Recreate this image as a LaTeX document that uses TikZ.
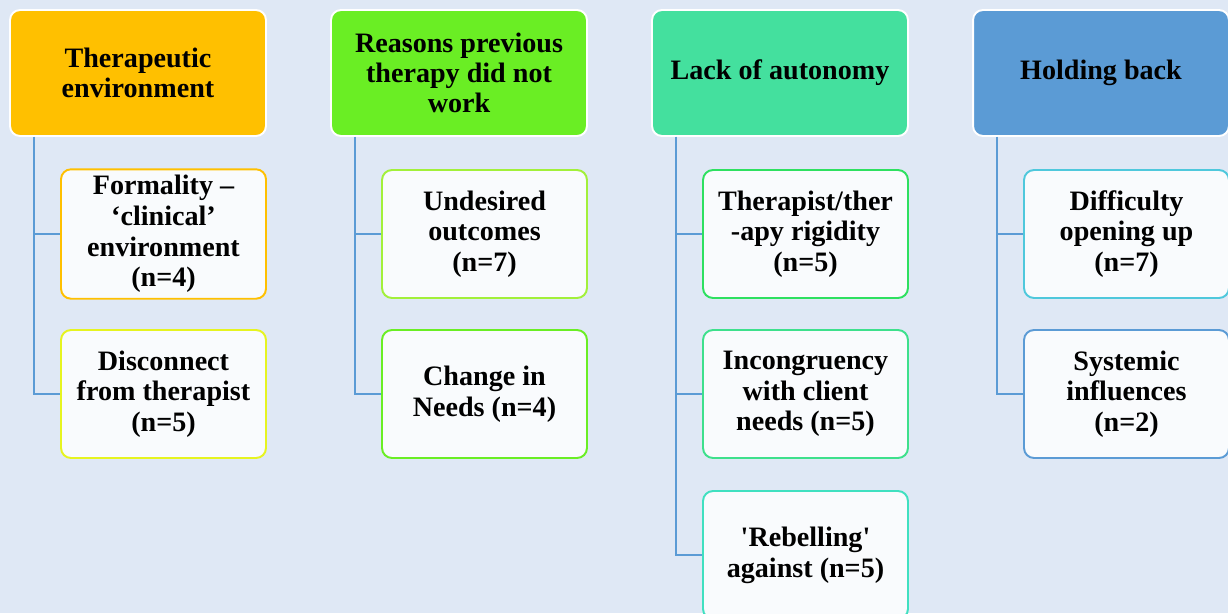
\documentclass[tikz,border=0pt]{standalone}
\usepackage{fontspec}
\setmainfont{Liberation Serif}
\usepackage{tikz}
\usetikzlibrary{positioning}

\definecolor{bgblue}{HTML}{DFE8F5}
\definecolor{linkblue}{HTML}{5B9BD5}
\definecolor{gold}{HTML}{FFC000}
\definecolor{lime}{HTML}{6AEE24}
\definecolor{mint}{HTML}{44E09E}
\definecolor{steel}{HTML}{5B9BD5}
\definecolor{yel}{HTML}{E6F420}
\definecolor{lgreen}{HTML}{A2F03A}
\definecolor{green}{HTML}{2EE060}
\definecolor{sea}{HTML}{3EE08C}
\definecolor{turq}{HTML}{40E0C0}
\definecolor{sky}{HTML}{4FC8DC}
\definecolor{boxwhite}{HTML}{F9FBFD}

\begin{document}
\begin{tikzpicture}[x=0.02cm,y=-0.02cm,
    link/.style={draw=linkblue,line width=1.5pt}]
    \fill[bgblue] (0,0) rectangle (1228,613);
    \useasboundingbox (0,0) rectangle (1228,613);

    \begin{scope}[every node/.style={rectangle,rounded corners=0.2cm,draw=white,line width=1.1pt,
        minimum width=5.12cm,minimum height=2.52cm,align=center,
        font=\fontsize{16}{17}\selectfont\bfseries}]
      \node[fill=gold] (h1) at (138,73) {Therapeutic\\environment};
      \node[fill=lime] (h2) at (459,73) {Reasons previous\\therapy did not\\work};
      \node[fill=mint] (h3) at (780,73) {Lack of autonomy};
      \node[fill=steel] (h4) at (1101,73) {Holding back};
    \end{scope}

    \begin{scope}[every node/.style={rectangle,rounded corners=0.2cm,fill=boxwhite,line width=1.1pt,
        minimum width=4.1cm,minimum height=2.56cm,align=center,
        font=\fontsize{16}{17.5}\selectfont\bfseries}]
      \node[draw=gold] (c11) at (163.5,234) {Formality –\\‘clinical’\\environment\\(n=4)};
      \node[draw=yel] (c12) at (163.5,394) {Disconnect\\from therapist\\(n=5)};
      \node[draw=lgreen] (c21) at (484.5,234) {Undesired\\outcomes\\(n=7)};
      \node[draw=lime] (c22) at (484.5,394) {Change in\\Needs (n=4)};
      \node[draw=green] (c31) at (805.5,234) {Therapist/ther\\-apy rigidity\\(n=5)};
      \node[draw=sea] (c32) at (805.5,394) {Incongruency\\with client\\needs (n=5)};
      \node[draw=turq] (c33) at (805.5,555) {\textquotesingle Rebelling\textquotesingle\\against (n=5)};
      \node[draw=sky] (c41) at (1126.5,234) {Difficulty\\opening up\\(n=7)};
      \node[draw=steel] (c42) at (1126.5,394) {Systemic\\influences\\(n=2)};
    \end{scope}

    % tree links
    \draw[link] ([xshift=0.5cm]h1.south west) |- (c11.west);
    \draw[link] ([xshift=0.5cm]h1.south west) |- (c12.west);
    \draw[link] ([xshift=0.5cm]h2.south west) |- (c21.west);
    \draw[link] ([xshift=0.5cm]h2.south west) |- (c22.west);
    \draw[link] ([xshift=0.5cm]h3.south west) |- (c31.west);
    \draw[link] ([xshift=0.5cm]h3.south west) |- (c32.west);
    \draw[link] ([xshift=0.5cm]h3.south west) |- (c33.west);
    \draw[link] ([xshift=0.5cm]h4.south west) |- (c41.west);
    \draw[link] ([xshift=0.5cm]h4.south west) |- (c42.west);
\end{tikzpicture}
\end{document}
